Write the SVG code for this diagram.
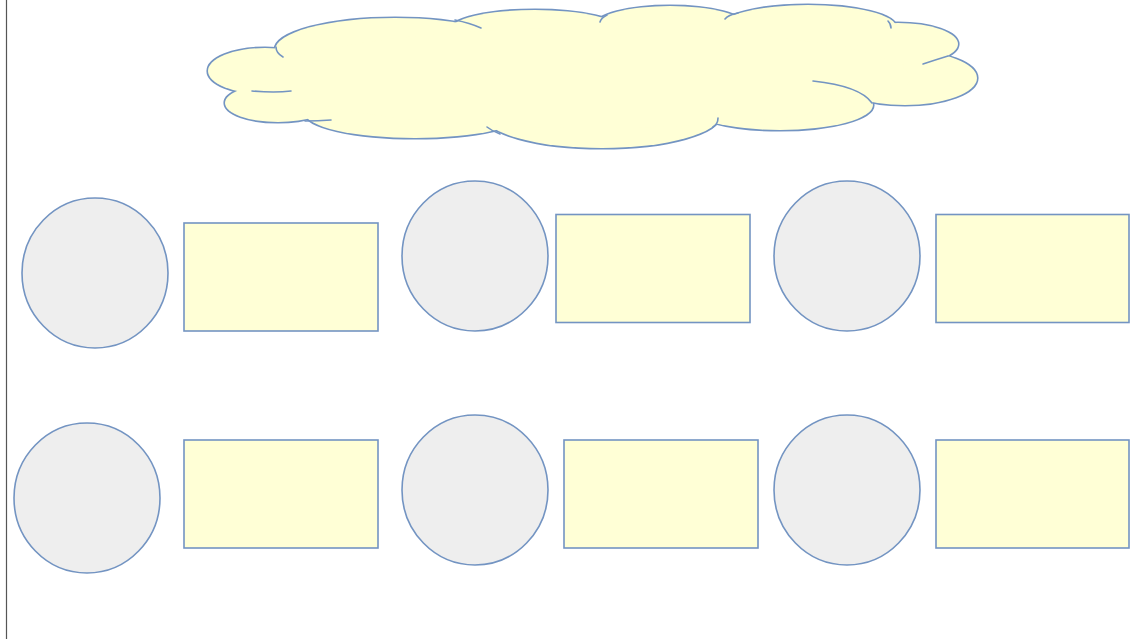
<svg xmlns="http://www.w3.org/2000/svg" width="1134" height="639" viewBox="0 0 1134 639">
<style>
.ln{stroke:#7394c2;stroke-width:1.6;}
.circ{fill:#eeeeee;}
.box{fill:#ffffd6;}
.lobe{fill:none;stroke:#7394c2;stroke-width:3.2;}
.lfill{fill:#ffffd6;stroke:none;}
.hook{fill:none;stroke:#7394c2;stroke-width:1.6;stroke-linecap:round;}
</style>
<rect x="0" y="0" width="1134" height="639" fill="#ffffff"/>
<line x1="6.5" y1="0" x2="6.5" y2="639" stroke="#555555" stroke-width="1.2"/>
<g id="cloud">
  <g>
    <ellipse class="lobe" cx="395" cy="50" rx="120" ry="32"/>
    <ellipse class="lobe" cx="265" cy="71" rx="57" ry="23"/>
    <ellipse class="lobe" cx="278" cy="103" rx="53" ry="19"/>
    <ellipse class="lobe" cx="415" cy="113" rx="110" ry="25"/>
    <ellipse class="lobe" cx="602" cy="115" rx="118" ry="33"/>
    <ellipse class="lobe" cx="780" cy="105" rx="93" ry="25"/>
    <ellipse class="lobe" cx="905" cy="78" rx="72" ry="27"/>
    <ellipse class="lobe" cx="898" cy="44" rx="60" ry="21"/>
    <ellipse class="lobe" cx="808" cy="27" rx="88" ry="22"/>
    <ellipse class="lobe" cx="670" cy="26" rx="75" ry="20"/>
    <ellipse class="lobe" cx="535" cy="30" rx="85" ry="20"/>
  </g>
  <g>
    <ellipse class="lfill" cx="395" cy="50" rx="120" ry="32"/>
    <ellipse class="lfill" cx="265" cy="71" rx="57" ry="23"/>
    <ellipse class="lfill" cx="278" cy="103" rx="53" ry="19"/>
    <ellipse class="lfill" cx="415" cy="113" rx="110" ry="25"/>
    <ellipse class="lfill" cx="602" cy="115" rx="118" ry="33"/>
    <ellipse class="lfill" cx="780" cy="105" rx="93" ry="25"/>
    <ellipse class="lfill" cx="905" cy="78" rx="72" ry="27"/>
    <ellipse class="lfill" cx="898" cy="44" rx="60" ry="21"/>
    <ellipse class="lfill" cx="808" cy="27" rx="88" ry="22"/>
    <ellipse class="lfill" cx="670" cy="26" rx="75" ry="20"/>
    <ellipse class="lfill" cx="535" cy="30" rx="85" ry="20"/>
    <ellipse class="lfill" cx="590" cy="78" rx="320" ry="50"/>
  </g>
  <g>
    <path class="hook" d="M276 47 Q276 53 283 57"/>
    <path class="hook" d="M252 91 Q275 93 291 91"/>
    <path class="hook" d="M305 121 Q318 121 331 120"/>
    <path class="hook" d="M455 20 Q470 23 481 28"/>
    <path class="hook" d="M607 15 Q601 18 600 22"/>
    <path class="hook" d="M738 13 Q728 15 725 19"/>
    <path class="hook" d="M888 21 Q891 24 891 28"/>
    <path class="hook" d="M948 56 Q935 60 923 64"/>
    <path class="hook" d="M813 81 Q860 86 872 103"/>
    <path class="hook" d="M718 118 Q718 124 713 127"/>
    <path class="hook" d="M487 127 Q492 131 500 134"/>
  </g>
</g>
<g id="c1"><ellipse class="ln circ" cx="95" cy="273" rx="73" ry="75"/></g>
<g id="r1"><rect class="ln box" x="184" y="223" width="194" height="108"/></g>
<g id="c2"><ellipse class="ln circ" cx="475" cy="256" rx="73" ry="75"/></g>
<g id="r2"><rect class="ln box" x="556" y="214.5" width="194" height="108"/></g>
<g id="c3"><ellipse class="ln circ" cx="847" cy="256" rx="73" ry="75"/></g>
<g id="r3"><rect class="ln box" x="936" y="214.5" width="193" height="108"/></g>
<g id="c4"><ellipse class="ln circ" cx="87" cy="498" rx="73" ry="75"/></g>
<g id="r4"><rect class="ln box" x="184" y="440" width="194" height="108"/></g>
<g id="c5"><ellipse class="ln circ" cx="475" cy="490" rx="73" ry="75"/></g>
<g id="r5"><rect class="ln box" x="564" y="440" width="194" height="108"/></g>
<g id="c6"><ellipse class="ln circ" cx="847" cy="490" rx="73" ry="75"/></g>
<g id="r6"><rect class="ln box" x="936" y="440" width="193" height="108"/></g>
<g id="connectors"></g>
</svg>
